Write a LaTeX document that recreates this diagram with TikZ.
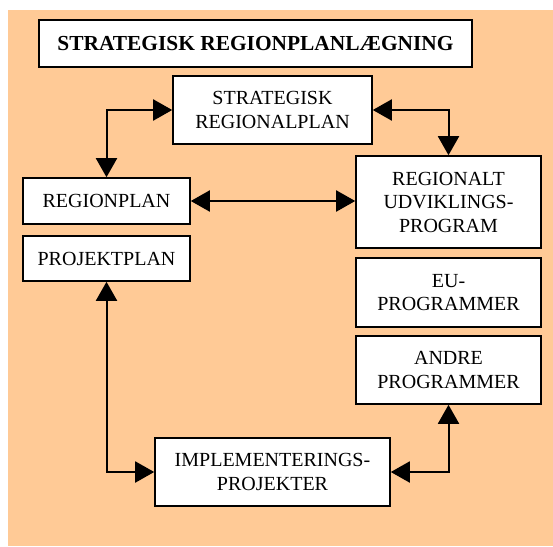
\documentclass[tikz,border=0pt]{standalone}
\usepackage{fontspec}
\setmainfont{Liberation Serif}
\usetikzlibrary{arrows.meta, positioning}
\definecolor{peach}{HTML}{FFCA96}

\begin{document}
\begin{tikzpicture}[x=1pt, y=-1pt,
    box/.style={draw, line width=1.6pt, fill=white, inner sep=0pt, align=center,
                font=\fontsize{20}{23.5}\selectfont},
    link/.style={{Triangle[length=19pt,width=21pt]}-{Triangle[length=19pt,width=21pt]}, line width=2pt}]

    \useasboundingbox (0,0) rectangle (553,546);
    \fill[peach] (8,10) rectangle (553,546);

    \node [box, minimum width=433pt, minimum height=47pt, font=\fontsize{21.4}{25}\selectfont\bfseries] (title) at (255.5, 43.5) {STRATEGISK REGIONPLANLÆGNING};
    \node [box, minimum width=199pt, minimum height=68pt] (strat) at (272.5, 110) {STRATEGISK\\REGIONALPLAN};
    \node [box, minimum width=167pt, minimum height=46pt] (regplan) at (106.5, 201) {REGIONPLAN};
    \node [box, minimum width=167pt, minimum height=45pt] (projplan) at (106.5, 258.5) {PROJEKTPLAN};
    \node [box, minimum width=185pt, minimum height=92pt] (rup) at (448.5, 202) {REGIONALT\\UDVIKLINGS-\\PROGRAM};
    \node [box, minimum width=185pt, minimum height=69pt] (eu) at (448.5, 292.5) {EU-\\PROGRAMMER};
    \node [box, minimum width=185pt, minimum height=68pt] (andre) at (448.5, 370) {ANDRE\\PROGRAMMER};
    \node [box, minimum width=235pt, minimum height=68pt] (impl) at (272.5, 472) {IMPLEMENTERINGS-\\PROJEKTER};

    \draw[link] (strat.west) -| (regplan.north);
    \draw[link] (strat.east) -| (rup.north);
    \draw[link] (regplan.east) -- (regplan.east -| rup.west);
    \draw[link] (projplan.south) |- (impl.west);
    \draw[link] (andre.south) |- (impl.east);
\end{tikzpicture}
\end{document}
